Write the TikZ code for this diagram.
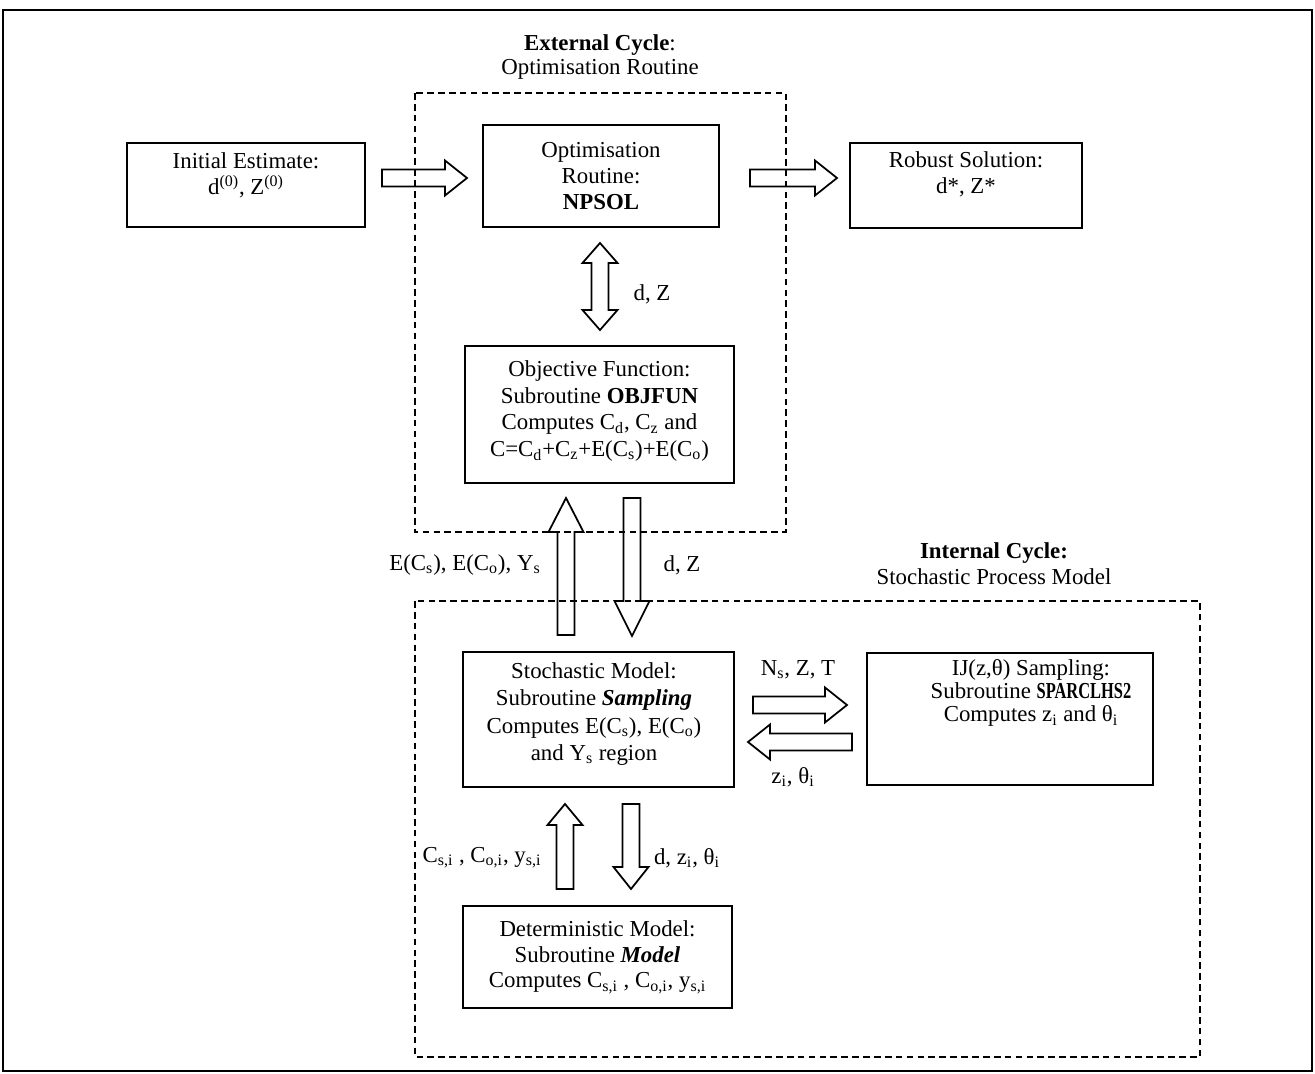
\documentclass[tikz,border=0pt]{standalone}
\usepackage{fontspec}
\setmainfont{Liberation Serif}
\usetikzlibrary{calc}
\newcommand{\mysubr}[1]{\textsubscript{#1}}
\newcommand{\mysupr}[1]{\textsuperscript{#1}}
% block arrow: from #1 to #2, direction (#3,#4), head length #5
\newcommand{\blockarr}[5]{%
  \draw[blk] ($(#1)+({8.5*(#4)},{-8.5*(#3)})$)
    -- ($(#2)+({-#5*(#3)+8.5*(#4)},{-#5*(#4)-8.5*(#3)})$)
    -- ($(#2)+({-#5*(#3)+17.5*(#4)},{-#5*(#4)-17.5*(#3)})$)
    -- (#2)
    -- ($(#2)+({-#5*(#3)-17.5*(#4)},{-#5*(#4)+17.5*(#3)})$)
    -- ($(#2)+({-#5*(#3)-8.5*(#4)},{-#5*(#4)+8.5*(#3)})$)
    -- ($(#1)+({-8.5*(#4)},{8.5*(#3)})$) -- cycle;}
% vertical double arrow from #1 (top tip) to #2 (bottom tip)
\newcommand{\dblarr}[2]{%
  \draw[blk] (#1) -- ($(#1)+(17.5,20)$) -- ($(#1)+(8.5,20)$) -- ($(#2)+(8.5,-20)$)
    -- ($(#2)+(17.5,-20)$) -- (#2) -- ($(#2)+(-17.5,-20)$) -- ($(#2)+(-8.5,-20)$)
    -- ($(#1)+(-8.5,20)$) -- ($(#1)+(-17.5,20)$) -- cycle;}
\def\px{0.02cm}
\begin{document}
\begin{tikzpicture}[x=0.02cm,y=-0.02cm,
  every node/.style={font=\fontsize{13}{14.7}\selectfont, inner sep=0pt},
  box/.style={draw, line width=0.9pt},
  txt/.style={align=center},
  wide/.style={font=\fontsize{13}{15.3}\selectfont},
  blk/.style={draw, line width=1pt, line join=miter},
  cyc/.style={draw, line width=0.75pt, dash pattern=on 3.8pt off 2.4pt},
  frame/.style={draw, line width=0.6pt}]
\useasboundingbox (0,0) rectangle (1315,1074);
\draw[frame] (3,10) rectangle (1312,1071);

% cycle frames
\draw[cyc] (415,93) rectangle (786,532);
\draw[cyc] (415,601) rectangle (1200,1057);

% headers
\node[txt, font=\fontsize{13}{13.5}\selectfont] (exthdr) at (600,57) {\textbf{External Cycle}:\\ Optimisation Routine};
\node[txt] (inthdr) at (994,564) {\textbf{Internal Cycle:}\\ Stochastic Process Model};

% boxes
\node[box, minimum width=238*\px, minimum height=84*\px] (init) at (246,185) {};
\node[txt] (initT) at (246,175) {Initial Estimate:\\ d\mysupr{(0)}, Z\mysupr{(0)}};

\node[box, minimum width=236*\px, minimum height=102*\px, txt] (npsol) at (601,176) {Optimisation\\ Routine:\\ \textbf{NPSOL}};

\node[box, minimum width=232*\px, minimum height=85*\px] (robust) at (966,185.5) {};
\node[txt] (robustT) at (966,174) {Robust Solution:\\ d*, Z*};

\node[box, minimum width=269*\px, minimum height=137*\px] (objfun) at (599.5,414.5) {};
\node[txt, wide] (objfunT) at (599.5,411) {Objective Function:\\ Subroutine \textbf{OBJFUN}\\ Computes C\mysubr{d}, C\mysubr{z} and\\ C=C\mysubr{d}+C\mysubr{z}+E(C\mysubr{s})+E(C\mysubr{o})};

\node[box, minimum width=271*\px, minimum height=135*\px] (stoch) at (598.5,719.5) {};
\node[txt, font=\fontsize{13}{15.6}\selectfont] (stochT) at (594,714) {Stochastic Model:\\ Subroutine \textbf{\textit{Sampling}}\\ Computes E(C\mysubr{s}), E(C\mysubr{o})\\ and Y\mysubr{s} region};

\node[box, minimum width=286*\px, minimum height=132*\px] (spar) at (1010,719) {};
\node[txt, font=\fontsize{13}{13.3}\selectfont] (sparT) at (1031,693) {IJ(z,θ) Sampling:\\ Subroutine \scalebox{0.72}[1]{\textbf{SPARCLHS2}}\\ Computes z\mysubr{i} and θ\mysubr{i}};

\node[box, minimum width=269*\px, minimum height=102*\px, txt] (determ) at (597.5,957) {Deterministic Model:\\ Subroutine \textbf{\textit{Model}}\\ Computes C\mysubr{s,i} , C\mysubr{o,i}, y\mysubr{s,i}};

% connector end points
\coordinate (a1s) at (382,178);  \coordinate (a1e) at (467,178);
\coordinate (a2s) at (750,178);  \coordinate (a2e) at (837,178);
\coordinate (dbt) at (600,243);  \coordinate (dbb) at (600,330);
\coordinate (u1s) at (566,635);  \coordinate (u1e) at (566,498);
\coordinate (d1s) at (632,498);  \coordinate (d1e) at (632,636);
\coordinate (rns) at (753,705);  \coordinate (rne) at (847,705);
\coordinate (lzs) at (852,742);  \coordinate (lze) at (748,742);
\coordinate (u2s) at (565,889);  \coordinate (u2e) at (565,804);
\coordinate (d2s) at (631,804);  \coordinate (d2e) at (631,889);

\blockarr{a1s}{a1e}{1}{0}{22}
\blockarr{a2s}{a2e}{1}{0}{22}
\dblarr{dbt}{dbb}
\blockarr{u1s}{u1e}{0}{-1}{34}
\blockarr{d1s}{d1e}{0}{1}{35}
\blockarr{rns}{rne}{1}{0}{22}
\blockarr{lzs}{lze}{-1}{0}{22}
\blockarr{u2s}{u2e}{0}{-1}{21}
\blockarr{d2s}{d2e}{0}{1}{22}

% connector labels
\node (l1) at (652,294) {d, Z};
\node (l2) at (465,565) {E(C\mysubr{s}), E(C\mysubr{o}), Y\mysubr{s}};
\node (l3) at (682,565) {d, Z};
\node (l4) at (798,670) {N\mysubr{s}, Z, T};
\node (l5) at (793,777) {z\mysubr{i}, θ\mysubr{i}};
\node (l6) at (482,858) {C\mysubr{s,i} , C\mysubr{o,i}, y\mysubr{s,i}};
\node (l7) at (687,858) {d, z\mysubr{i}, θ\mysubr{i}};
\end{tikzpicture}
\end{document}
